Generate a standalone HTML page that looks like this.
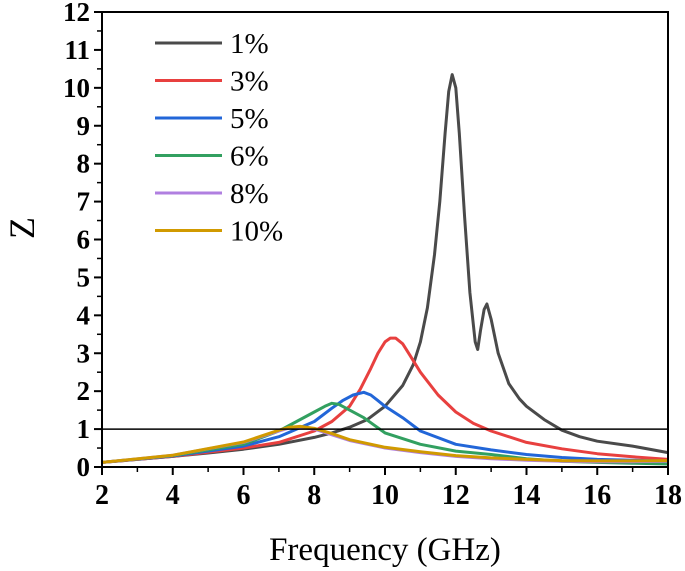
<!DOCTYPE html>
<html><head><meta charset="utf-8"><style>
body{margin:0;background:#fff}
svg{display:block;font-family:"Liberation Serif",serif}
</style></head><body>
<svg id="c" width="685" height="571"></svg>
<script>
const xTicks=[2,4,6,8,10,12,14,16,18];
const yTicks=[0,1,2,3,4,5,6,7,8,9,10,11,12];
const seriesNames=["1%","3%","5%","6%","8%","10%"];
const seriesColors=["#4a4a4a","#e8403f","#2266d8","#32a060","#b07fe0","#d19a00"];
const s1x=[2,3,4,5,6,7,8,8.5,9,9.5,10,10.5,10.8,11,11.2,11.4,11.55,11.7,11.8,11.9,12.0,12.1,12.25,12.4,12.55,12.62,12.7,12.8,12.88,13.0,13.2,13.5,13.8,14,14.5,15,15.5,16,17,18];
const s1y=[0.12,0.2,0.28,0.37,0.47,0.6,0.78,0.9,1.05,1.25,1.6,2.15,2.7,3.3,4.2,5.6,7.0,8.8,9.9,10.35,10.0,8.8,6.6,4.6,3.3,3.1,3.6,4.15,4.3,3.9,3.0,2.2,1.8,1.6,1.25,0.97,0.8,0.68,0.55,0.38];
const s3x=[2,4,6,7,8,8.5,9,9.3,9.6,9.8,10,10.15,10.3,10.5,10.7,11,11.5,12,12.5,13,14,15,16,17,18];
const s3y=[0.12,0.28,0.5,0.65,0.95,1.2,1.6,2.05,2.6,3.0,3.3,3.4,3.4,3.25,2.95,2.5,1.9,1.45,1.15,0.95,0.65,0.48,0.35,0.27,0.2];
const s5x=[2,4,6,7,8,8.5,8.8,9.1,9.4,9.6,9.8,10,10.5,11,12,13,14,15,16,17,18];
const s5y=[0.12,0.29,0.55,0.8,1.2,1.55,1.75,1.9,1.97,1.9,1.75,1.6,1.3,0.95,0.6,0.45,0.33,0.25,0.2,0.18,0.15];
const s6x=[2,4,6,7,7.5,8,8.3,8.5,8.7,9.0,9.4,9.7,10,11,12,13,14,15,16,17,18];
const s6y=[0.12,0.3,0.6,0.95,1.2,1.45,1.6,1.68,1.65,1.5,1.3,1.1,0.9,0.6,0.42,0.33,0.22,0.15,0.12,0.1,0.08];
const s8x=[2,4,6,7,7.3,7.6,8,8.5,9,10,11,12,13,14,15,16,17,18];
const s8y=[0.12,0.31,0.65,0.95,1.03,1.05,1.0,0.85,0.7,0.5,0.38,0.28,0.22,0.18,0.15,0.14,0.14,0.15];
const s10x=[2,4,6,7,7.3,7.6,8,8.5,9,10,11,12,13,14,15,16,17,18];
const s10y=[0.12,0.31,0.66,0.97,1.05,1.07,1.02,0.88,0.72,0.52,0.4,0.3,0.24,0.2,0.17,0.16,0.16,0.17];
const allX=[s1x,s3x,s5x,s6x,s8x,s10x], allY=[s1y,s3y,s5y,s6y,s8y,s10y];

const L=102,R=668,T=12,B=467;
const X=v=>L+(v-2)/16*(R-L), Y=v=>B-v/12*(B-T);
const svg=document.getElementById('c'),NS="http://www.w3.org/2000/svg";
function mk(t,a,p){const e=document.createElementNS(NS,t);for(const k in a)e.setAttribute(k,a[k]);(p||svg).appendChild(e);return e;}

for(let i=0;i<allX.length;i++){
 const d=allX[i].map((x,j)=>(j?'L':'M')+X(x).toFixed(1)+','+Y(allY[i][j]).toFixed(1)).join('');
 const p=mk('path',{d:d,fill:'none',stroke:seriesColors[i],'stroke-width':3,'stroke-linejoin':'round'});
 
 
}
const rl=mk('line',{x1:L,x2:R,y1:Y(1),y2:Y(1),stroke:'#000','stroke-width':1.5});


const fr=mk('rect',{x:L,y:T,width:R-L,height:B-T,fill:'none',stroke:'#000','stroke-width':2});


xTicks.forEach(v=>{
 mk('line',{x1:X(v),x2:X(v),y1:B,y2:B+8,stroke:'#000','stroke-width':2});
 if(v<18)mk('line',{x1:X(v+1),x2:X(v+1),y1:B,y2:B+5,stroke:'#000','stroke-width':1.5});
 const t=mk('text',{x:X(v),y:B+37,'text-anchor':'middle','font-size':28,'font-weight':'bold'});t.textContent=v;
 
 
});
yTicks.forEach(v=>{
 mk('line',{x1:L-8,x2:L,y1:Y(v),y2:Y(v),stroke:'#000','stroke-width':2});
 if(v<12)mk('line',{x1:L-5,x2:L,y1:Y(v+0.5),y2:Y(v+0.5),stroke:'#000','stroke-width':1.5});
 const t=mk('text',{x:L-12,y:Y(v)+9,'text-anchor':'end','font-size':27,'font-weight':'bold'});t.textContent=v;
 
 
});
const xt=mk('text',{x:385,y:560,'text-anchor':'middle','font-size':33});xt.textContent='Frequency (GHz)';


const yt=mk('text',{x:0,y:0,'text-anchor':'middle','font-size':36,transform:'translate(34,228) rotate(-90)'});yt.textContent='Z';


seriesNames.forEach((n,i)=>{
 const y=43+i*37.5;
 const g=mk('g',{});
 
 
 mk('line',{x1:155,x2:222,y1:y,y2:y,stroke:seriesColors[i],'stroke-width':3},g);
 const t=mk('text',{x:230,y:y+10,'font-size':29},g);t.textContent=n;
});
</script>
</body></html>
